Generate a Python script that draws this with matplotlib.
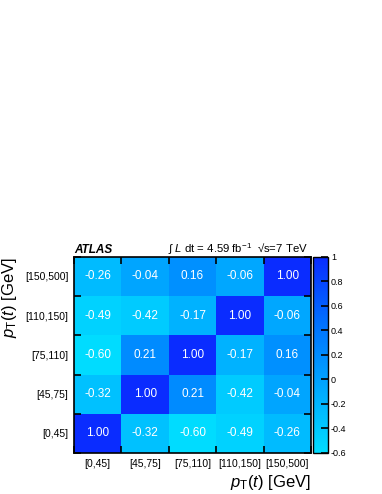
import matplotlib.pyplot as plt
import numpy as np
from matplotlib.colors import LinearSegmentedColormap

plt.rcParams['font.family'] = ['Liberation Sans', 'DejaVu Sans']
plt.rcParams['mathtext.fontset'] = 'custom'
plt.rcParams['mathtext.rm'] = 'Liberation Sans'
plt.rcParams['mathtext.it'] = 'Liberation Sans:italic'

# bins of pT(t)
bins = ['[0,45]', '[45,75]', '[75,110]', '[110,150]', '[150,500]']

# correlation matrix, rows from bottom bin to top bin
corr = np.array([
    [1.00, -0.32, -0.60, -0.49, -0.26],
    [-0.32, 1.00, 0.21, -0.42, -0.04],
    [-0.60, 0.21, 1.00, -0.17, 0.16],
    [-0.49, -0.42, -0.17, 1.00, -0.06],
    [-0.26, -0.04, 0.16, -0.06, 1.00],
])

cbar_ticks = [-0.6, -0.4, -0.2, 0, 0.2, 0.4, 0.6, 0.8, 1]
cbar_labels = ['-0.6', '-0.4', '-0.2', '0', '0.2', '0.4', '0.6', '0.8', '1']

cmap = LinearSegmentedColormap.from_list('atlas', ['#00dcff', '#00a8ff', '#0070ff', '#0a2cff'])

fig = plt.figure(figsize=(3.82, 4.94), dpi=100)
ax = fig.add_axes([0.194, 0.083, 0.620, 0.397])
n = len(bins)
mesh = ax.pcolormesh(np.arange(n + 1), np.arange(n + 1), corr, cmap=cmap, vmin=-0.6, vmax=1.0)

# numbers in the cells
for i in range(n):
    for j in range(n):
        ax.text(j + 0.5, i + 0.5, f'{corr[i, j]:.2f}', color='white',
                ha='center', va='center', fontsize=8.5)

ax.set_xlim(0, n)
ax.set_ylim(0, n)
# major ticks at bin edges, labels at bin centres
ax.set_xticks(np.arange(n + 1))
ax.set_yticks(np.arange(n + 1))
ax.set_xticklabels([])
ax.set_yticklabels([])
ax.set_xticks(np.arange(n) + 0.5, minor=True)
ax.set_yticks(np.arange(n) + 0.5, minor=True)
ax.set_xticklabels(bins, minor=True, fontsize=7.5)
ax.set_yticklabels(bins, minor=True, fontsize=7.5)
ax.tick_params(which='minor', length=0, pad=4)
ax.tick_params(which='major', direction='in', length=5, width=1.2,
               top=True, right=True, color='black')
for s in ax.spines.values():
    s.set_linewidth(1.2)

ax.set_xlabel(r'$p_{\mathrm{T}}(t)$ [GeV]', fontsize=12, ha='right', x=1.0, labelpad=3)
ax.set_ylabel(r'$p_{\mathrm{T}}(t)$ [GeV]', fontsize=12, ha='right', y=1.0, labelpad=4)

fig.text(0.194, 0.487, 'ATLAS', fontsize=8.5, fontweight='bold', fontstyle='italic')
fig.text(0.44, 0.487, '\u222b $L$ dt = 4.59 fb$^{-1}$  \u221as=7 TeV', fontsize=8.2)

cax = fig.add_axes([0.819, 0.083, 0.040, 0.397])
cb = fig.colorbar(mesh, cax=cax, ticks=cbar_ticks)
cb.ax.set_yticklabels(cbar_labels)
cb.ax.tick_params(direction='in', length=5, width=1.2, labelsize=6.5, pad=2)
cb.outline.set_linewidth(1.0)

plt.savefig('out.png', dpi=100)
